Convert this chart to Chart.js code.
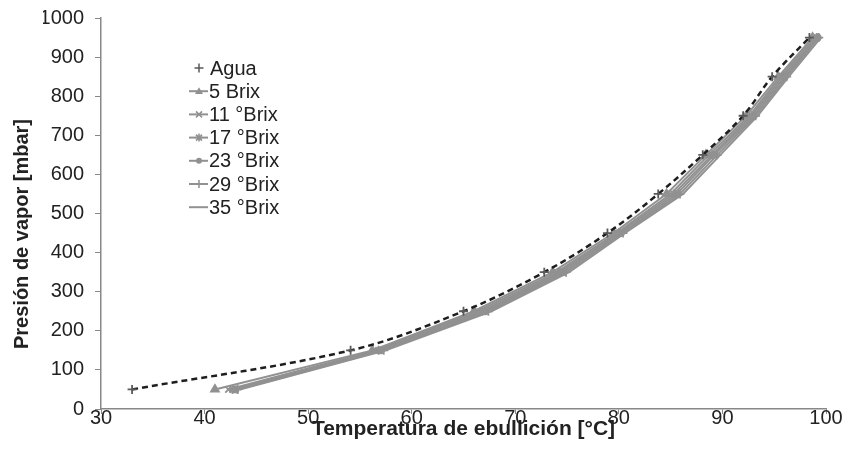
<!DOCTYPE html>
<html>
<head>
<meta charset="utf-8">
<script src="https://cdn.jsdelivr.net/npm/chart.js@4/dist/chart.umd.min.js"></script>
<style>
  html, body { margin: 0; padding: 0; background: #fff; }
  #wrap { width: 855px; height: 469px; position: relative; }
</style>
</head>
<body>
<div id="wrap"><canvas id="chartVapor"></canvas></div>
<script>
/* DATOS: presión de vapor (mbar) y temperatura de ebullición (°C) */
const presiones = [50, 150, 250, 350, 450, 550, 650, 750, 850, 950];

const tAgua   = [33.0, 54.1, 65.0, 72.8, 78.9, 83.8, 88.1, 92.0, 94.8, 98.4];
const tBrix5  = [41.0, 56.2, 66.0, 73.6, 79.5, 84.6, 88.4, 92.3, 95.4, 98.7];
const tBrix11 = [42.3, 56.5, 66.4, 74.0, 79.8, 85.0, 88.7, 92.6, 95.6, 98.9];
const tBrix17 = [42.7, 56.8, 66.8, 74.3, 80.0, 85.3, 89.0, 92.8, 95.8, 99.1];
const tBrix23 = [43.0, 57.0, 67.1, 74.6, 80.2, 85.6, 89.2, 93.0, 96.0, 99.2];
const tBrix29 = [43.2, 57.3, 67.4, 74.9, 80.4, 85.9, 89.5, 93.2, 96.2, 99.3];
const tBrix35 = [43.4, 57.5, 67.7, 75.2, 80.6, 86.2, 89.8, 93.4, 96.4, 99.5];

const nombres = ['Agua', '5 Brix', '11 °Brix', '17 °Brix', '23 °Brix', '29 °Brix', '35 °Brix'];
const marcadores = ['cross', 'triangle', 'crossRot', 'star', 'circle', 'cross', false];
const tituloY = 'Presión de vapor [mbar]';

const FUENTE = '"Liberation Sans", Arial, sans-serif';
const GRIS = '#919191';

function puntos(temps) {
  return temps.map((t, i) => ({ x: t, y: presiones[i] }));
}

/* Construimos los datasets */
const series = [tAgua, tBrix5, tBrix11, tBrix17, tBrix23, tBrix29, tBrix35];
const datasets = series.map((temps, i) => {
  const agua = i === 0;
  return {
    label: nombres[i],
    data: puntos(temps),
    showLine: true,
    borderColor: agua ? '#1e1e1e' : GRIS,
    backgroundColor: agua ? '#555' : GRIS,
    borderWidth: agua ? 2.5 : 2,
    borderDash: agua ? [6, 4] : [],
    tension: agua ? 0.35 : 0,
    pointStyle: marcadores[i] || 'circle',
    pointRadius: marcadores[i] ? (i === 4 ? 3 : 4.5) : 0,
    pointBorderColor: agua ? '#5a5a5a' : GRIS,
    pointBackgroundColor: agua ? '#5a5a5a' : GRIS,
    pointBorderWidth: 1.8,
  };
});

/* Marcador simple para la leyenda */
function dibujarMarcador(ctx, estilo, x, y, r) {
  ctx.beginPath();
  if (estilo === 'cross' || estilo === 'star') {
    ctx.moveTo(x - r, y); ctx.lineTo(x + r, y);
    ctx.moveTo(x, y - r); ctx.lineTo(x, y + r);
  }
  if (estilo === 'crossRot' || estilo === 'star') {
    const d = r * 0.75;
    ctx.moveTo(x - d, y - d); ctx.lineTo(x + d, y + d);
    ctx.moveTo(x - d, y + d); ctx.lineTo(x + d, y - d);
  }
  ctx.stroke();
  if (estilo === 'triangle') {
    ctx.beginPath();
    ctx.moveTo(x, y - r);
    ctx.lineTo(x + r, y + r * 0.7);
    ctx.lineTo(x - r, y + r * 0.7);
    ctx.closePath();
    ctx.fill();
  }
  if (estilo === 'circle') {
    ctx.beginPath();
    ctx.arc(x, y, r, 0, Math.PI * 2);
    ctx.fill();
  }
}

/* LEYENDA PROPIA y título del eje Y */
const leyendaPlugin = {
  id: 'leyendaPropia',
  afterDraw(chart) {
    const ctx = chart.ctx;
    const x0 = 189, y0 = 68, paso = 23.2;
    ctx.save();
    ctx.font = '20px ' + FUENTE;
    ctx.textBaseline = 'middle';
    chart.data.datasets.forEach((ds, i) => {
      const y = y0 + i * paso;
      if (i > 0) {
        ctx.strokeStyle = GRIS;
        ctx.lineWidth = 2;
        ctx.beginPath();
        ctx.moveTo(x0, y);
        ctx.lineTo(x0 + 19, y);
        ctx.stroke();
      }
      if (marcadores[i]) {
        ctx.fillStyle = ds.pointBackgroundColor;
        ctx.strokeStyle = ds.pointBorderColor;
        ctx.lineWidth = 1.5;
        const r = i === 0 ? 4.5 : i === 4 ? 3 : 4;
        dibujarMarcador(ctx, marcadores[i], x0 + 10, y, r);
      }
      ctx.fillStyle = '#222';
      ctx.fillText(ds.label, x0 + (i === 0 ? 21 : 20), y + 1);
    });

    /* título Y, centrado como en la figura original */
    ctx.translate(22, 234);
    ctx.rotate(-Math.PI / 2);
    ctx.textAlign = 'center';
    ctx.font = 'bold 20px ' + FUENTE;
    ctx.fillText(tituloY, 0, 0);
    ctx.restore();
  }
};

new Chart(document.getElementById('chartVapor'), {
  type: 'scatter',
  data: { datasets },
  plugins: [leyendaPlugin],
  options: {
    responsive: true,
    maintainAspectRatio: false,
    animation: false,
    layout: { padding: { top: 18, right: 29, left: 43, bottom: 0 } },
    plugins: {
      legend: { display: false },
      tooltip: { enabled: false },
    },
    scales: {
      x: {
        type: 'linear',
        min: 30,
        max: 100,
        afterFit: s => { s.height = 60; },
        border: { color: '#888', width: 1.5 },
        grid: { display: true, drawOnChartArea: false, tickLength: 5, color: '#888' },
        ticks: { stepSize: 10, color: '#222', padding: -8, font: { family: FUENTE, size: 20 } },
        title: {
          display: true,
          text: 'Temperatura de ebullición [°C]',
          color: '#222',
          font: { family: FUENTE, size: 21, weight: 'bold' },
          padding: { top: 0, bottom: 27 },
        },
      },
      y: {
        min: 0,
        max: 1000,
        afterFit: s => { s.width = 58; s.paddingTop = 0; s.paddingBottom = 0; },
        border: { color: '#888', width: 1.5 },
        grid: { display: true, drawOnChartArea: false, tickLength: 6, color: '#888' },
        ticks: {
          stepSize: 100,
          color: '#222',
          padding: 11,
          font: { family: FUENTE, size: 20 },
          callback: v => String(v),
        },
      },
    },
  },
});
</script>
</body>
</html>
